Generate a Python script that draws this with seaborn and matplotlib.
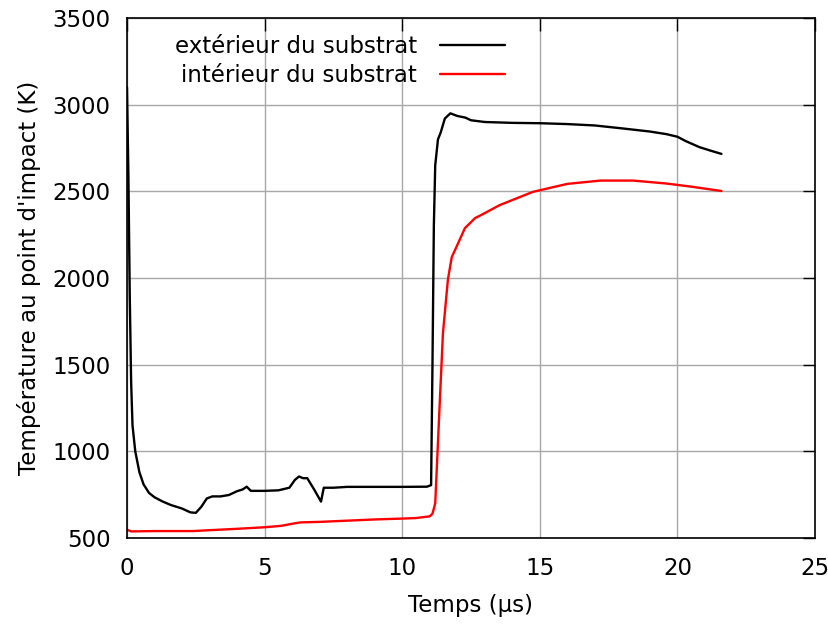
import numpy as np
import matplotlib
matplotlib.use("Agg")
import matplotlib.pyplot as plt
import seaborn as sns
import pandas as pd

# Black curve: outside of the substrate
t_ext = [0.0, 0.05, 0.1, 0.15, 0.2, 0.3, 0.45, 0.6, 0.8, 1.0, 1.3, 1.6, 2.0, 2.3, 2.5,
         2.7, 2.9, 3.1, 3.4, 3.7, 4.0, 4.2, 4.35, 4.5, 5.0, 5.5, 5.9, 6.1, 6.25, 6.4,
         6.55, 6.8, 7.05, 7.15, 7.5, 8.0, 9.0, 10.0, 10.9, 11.05, 11.1, 11.15, 11.2,
         11.3, 11.4, 11.55, 11.75, 12.0, 12.3, 12.5, 13.0, 14.0, 15.0, 16.0, 17.0,
         18.0, 19.0, 19.6, 20.0, 20.3, 20.8, 21.2, 21.6]
T_ext = [3100, 2600, 1900, 1400, 1150, 1000, 880, 810, 760, 735, 710, 690, 670, 648, 645,
         680, 728, 740, 740, 748, 770, 780, 796, 772, 772, 775, 790, 835, 855, 845,
         845, 780, 710, 790, 790, 795, 795, 795, 796, 805, 1500, 2300, 2650,
         2800, 2840, 2920, 2950, 2935, 2925, 2910, 2900, 2895, 2893, 2888, 2880,
         2863, 2845, 2830, 2815, 2790, 2755, 2735, 2716]

# Red curve: inside of the substrate
t_int = [0.0, 0.15, 1.0, 2.4, 3.0, 4.0, 5.0, 5.6, 6.0, 6.3, 7.0, 8.0, 9.0, 10.0, 10.5,
         11.0, 11.1, 11.2, 11.37, 11.48, 11.66, 11.8, 12.03, 12.28, 12.65, 12.83,
         13.55, 14.75, 16.0, 17.2, 18.4, 19.6, 20.5, 21.6]
T_int = [548, 538, 540, 540, 545, 553, 562, 570, 582, 590, 593, 600, 607, 612, 615,
         625, 640, 700, 1300, 1680, 1990, 2120, 2200, 2288, 2346, 2360,
         2421, 2497, 2543, 2562, 2562, 2545, 2527, 2502]

labels = ["extérieur du substrat", "intérieur du substrat"]

df = pd.concat([
    pd.DataFrame({"t": t_ext, "T": T_ext, "s": labels[0]}),
    pd.DataFrame({"t": t_int, "T": T_int, "s": labels[1]}),
])

sns.set_style("white")
plt.rcParams["font.family"] = ["DejaVu Sans"]
plt.rcParams["text.color"] = "black"
plt.rcParams["axes.labelcolor"] = "black"
fs = 16.5

fig = plt.figure(figsize=(8.29, 6.26), dpi=100)
ax = fig.add_axes([127 / 829, 1 - 538 / 626, (815 - 127) / 829, (538 - 18) / 626])

sns.lineplot(data=df, x="t", y="T", hue="s", palette=["black", "red"],
             linewidth=1.7, ax=ax, sort=False, estimator=None)

ax.set_xlim(0, 25)
ax.set_ylim(500, 3500)
ax.set_xticks(np.arange(0, 26, 5))
ax.set_yticks(np.arange(500, 3501, 500))
ax.grid(True, color="#a8a8a8", linewidth=1)
ax.set_axisbelow(True)
for sp in ax.spines.values():
    sp.set_color("black")
    sp.set_linewidth(1.2)
    sp.set_visible(True)
ax.tick_params(direction="in", length=9, width=1, top=True, right=True,
               labelsize=fs, colors="black")
ax.tick_params(axis="y", pad=12)
ax.tick_params(axis="x", pad=14)
ax.set_xlabel("Temps (µs)", fontsize=fs, labelpad=10)
ax.set_ylabel("Température au point d'impact (K)", fontsize=fs, labelpad=8)

ax.legend(title=None, frameon=False, markerfirst=False, loc="upper right",
          bbox_to_anchor=(0.5625, 0.984), borderaxespad=0, fontsize=fs,
          handlelength=2.84, handletextpad=1.0, labelspacing=0.25)

fig.savefig("out.png", dpi=100)
